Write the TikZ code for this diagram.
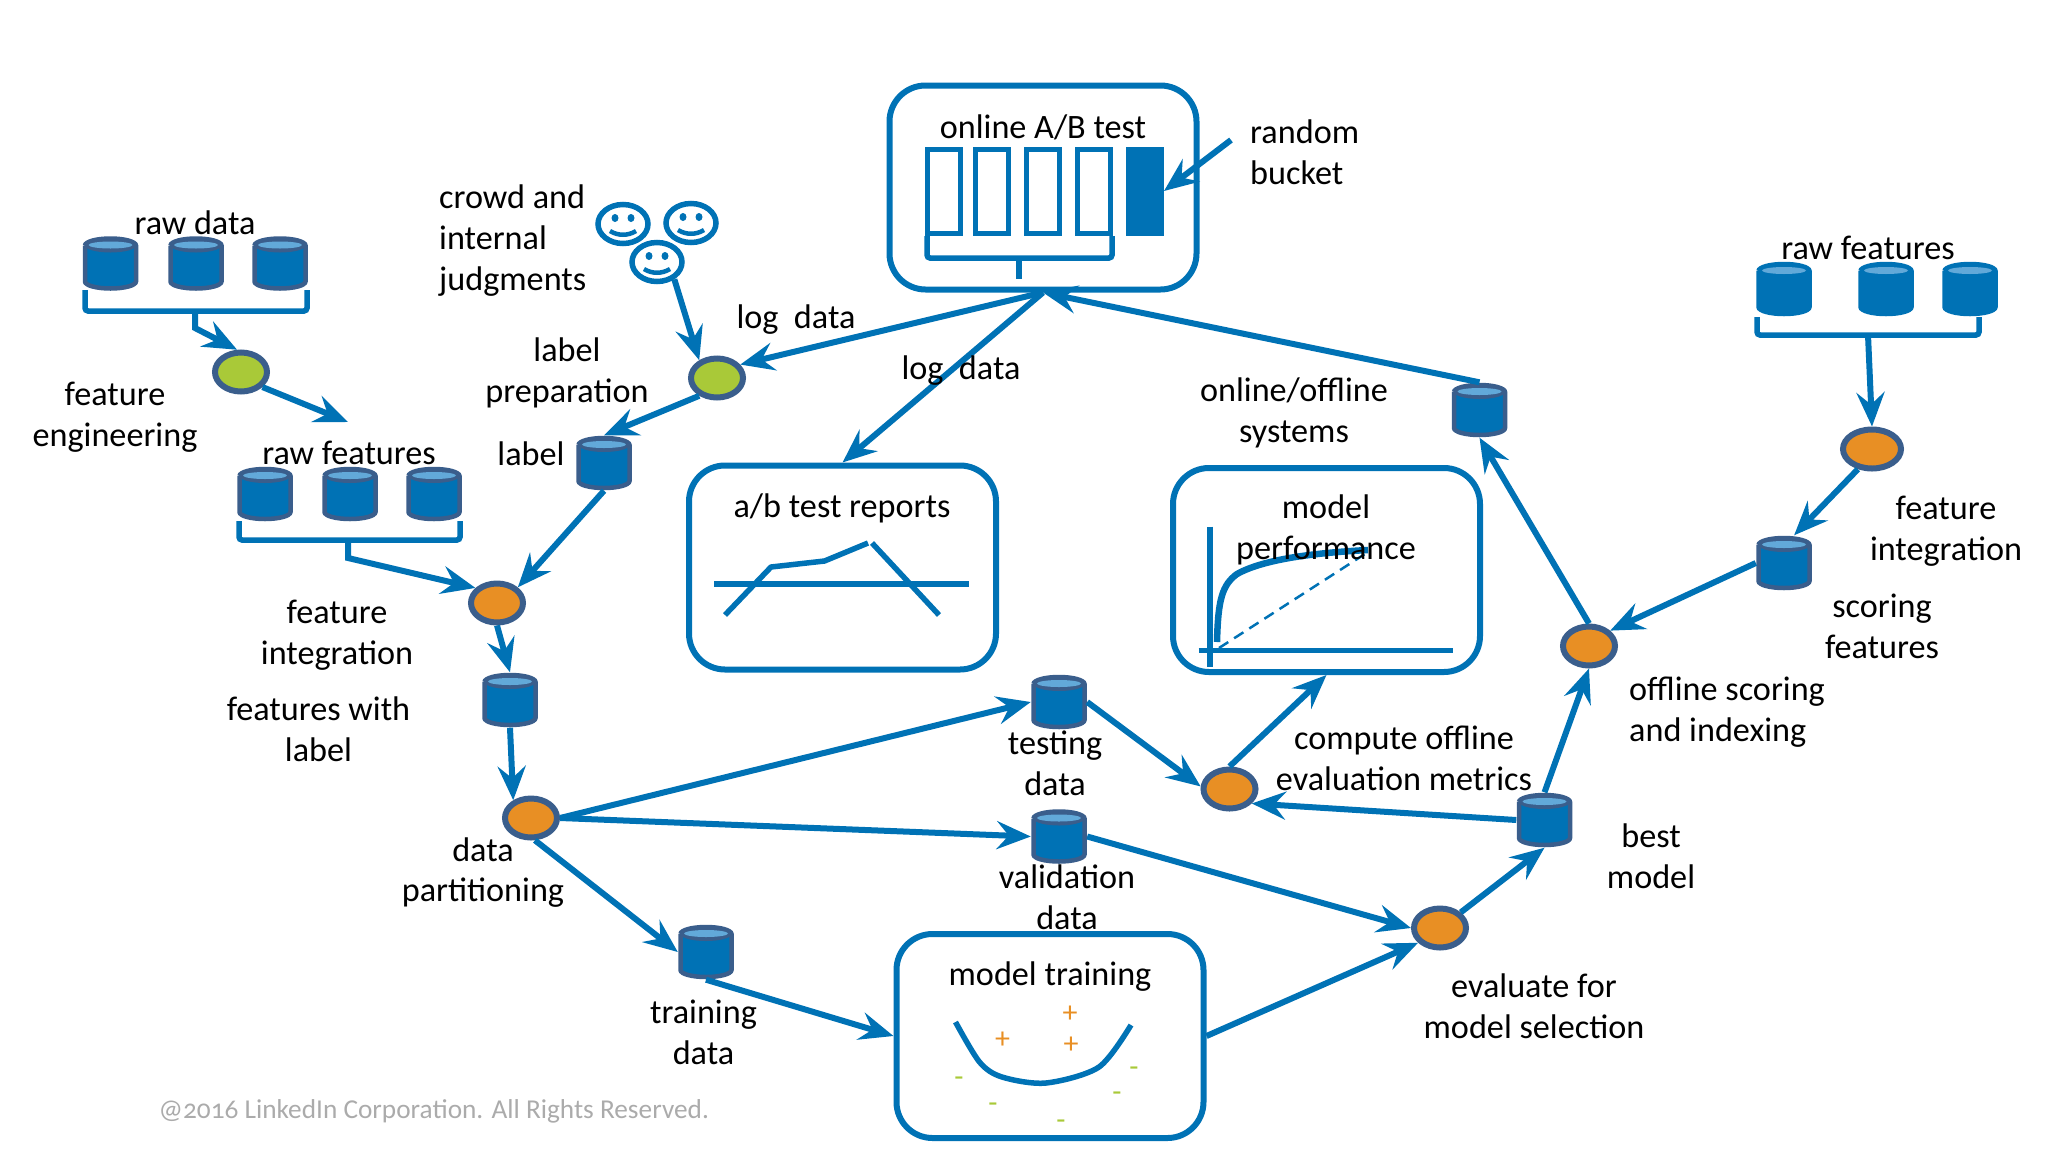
\documentclass[tikz,border=0pt]{standalone}
\usepackage{fontspec}
\setmainfont{Carlito}
\usetikzlibrary{arrows.meta,shapes.geometric}

\definecolor{lnblue}{HTML}{0072B5}
\definecolor{lndark}{HTML}{3A5E8C}
\definecolor{lntop}{HTML}{62A9D9}
\definecolor{lnorange}{HTML}{E88F24}
\definecolor{lngreen}{HTML}{A9C938}
\definecolor{lngray}{HTML}{ABABAB}

\tikzset{
  lbl/.style={inner sep=0pt, align=center, font=\fontsize{34.2}{40.7}\selectfont},
  lblleft/.style={lbl, align=left, anchor=west},
  flow/.style={draw=lnblue, line width=6pt, -{Stealth[length=34pt,width=28pt,inset=12pt]}},
  bracket/.style={draw=lnblue, line width=5.5pt, rounded corners=3pt},
  db/.style={rectangle, inner sep=0pt, minimum width=56pt, minimum height=55pt,
    path picture={
      \begin{scope}[shift={(path picture bounding box.center)}]
        \draw[draw=#1, fill=lnblue, line width=4.5pt] (-25.5,-18) -- (-25.5,18)
          arc[start angle=180, end angle=360, x radius=25.5pt, y radius=7pt] -- (25.5,-18)
          arc[start angle=0, end angle=180, x radius=25.5pt, y radius=7pt];
        \fill[#1] (0,-18) ellipse [x radius=25.5pt, y radius=7pt];
        \fill[lntop] (0,-18.5) ellipse [x radius=22pt, y radius=3.5pt];
      \end{scope}
    }},
  db/.default=lndark,
  task/.style={ellipse, inner sep=0pt, minimum width=52pt, minimum height=39pt, line width=6pt, draw=lndark},
  taskgreen/.style={task, fill=lngreen},
  taskorange/.style={task, fill=lnorange},
  panel/.style={rectangle, rounded corners=36pt, draw=lnblue, line width=6pt,
    minimum width=307pt, minimum height=204pt},
  bar/.style={rectangle, draw=lnblue, line width=5pt, minimum width=33pt, minimum height=84pt},
  barfull/.style={bar, fill=lnblue},
  smiley/.style={ellipse, draw=lnblue, line width=5.5pt, minimum width=50pt, minimum height=39pt},
  inner/.style={draw=lnblue, line width=5.5pt},
}

\begin{document}
\begin{tikzpicture}[x=1pt,y=-1pt]
  \useasboundingbox (0,0) rectangle (2048,1152);

  % panels
  \node[panel] (abtest) at (1043,187.5) {};
  \node[panel] (reports) at (842.5,567.5) {};
  \node[panel] (perf) at (1326.5,570) {};
  \node[panel] (training) at (1050,1036) {};

  % online test buckets
  \foreach \n/\x in {barA/944,barB/992,barC/1043,barD/1094}
  \node[bar] (\n) at (\x,191) {};
  \node[barfull] (barE) at (1145,191) {};
  \draw[bracket] (927,236) -- (927,258) -- (1112,258) -- (1112,236);
  \draw[bracket] (1019,258) -- (1019,279);

  % report chart
  \draw[inner] (714,584) -- (969,584);
  \draw[inner, line join=round] (725,615) -- (771,567) -- (824.5,561) -- (868,543);
  \draw[inner] (872,543) -- (939,615);

  % performance chart
  \draw[inner] (1210,526.5) -- (1210,667);
  \draw[inner] (1198.5,650.5) -- (1453,650.5);
  \draw[draw=lnblue, line width=2.5pt, dash pattern=on 11pt off 7pt] (1219,648) -- (1368,552);
  \draw[draw=lnblue, line width=6.5pt] (1217,642) .. controls (1218,600) and (1222,585) .. (1237,574)
    .. controls (1262,560) and (1310,553) .. (1368,550);

  % training chart
  \draw[inner] plot[smooth] coordinates {
    (955.5,1022)
    (979.5,1062)
    (1002,1077)
    (1046,1083)
    (1099,1067)
    (1131,1025)
  };
  \foreach \n/\x/\y in {plusA/1070/1014,plusB/1002.5/1040,plusC/1071/1045}
  \node[inner sep=0pt, text=lnorange, font=\fontsize{30}{30}\selectfont] (\n) at (\x,\y) {+};
  \foreach \n/\x/\y in {minusA/959/1082,minusB/993/1108,minusC/1061/1125,minusD/1117/1097,minusE/1134/1072}
  \node[inner sep=0pt, text=lngreen, font=\fontsize{30}{30}\selectfont] (\n) at (\x,\y) {-};

  % data stores
  \foreach \n/\x in {rawA/110.5,rawB/196,rawC/280}
  \node[db] (\n) at (\x,263.5) {};
  \foreach \n/\x in {featA/265,featB/350,featC/434}
  \node[db] (\n) at (\x,494) {};
  \foreach \n/\x in {scoreA/1784,scoreB/1886,scoreC/1970}
  \node[db=lnblue] (\n) at (\x,289) {};
  \node[db] (label) at (604,463) {};
  \node[db] (withlabel) at (510,700) {};
  \node[db] (trainset) at (706,952) {};
  \node[db] (testset) at (1059,702) {};
  \node[db] (valset) at (1059,836.5) {};
  \node[db] (bestmodel) at (1544.5,820) {};
  \node[db] (systems) at (1479.5,410) {};
  \node[db] (scoring) at (1784,563) {};

  % tasks
  \node[taskgreen] (engineer) at (241,372) {};
  \node[taskgreen] (prepare) at (717,378) {};
  \node[taskorange] (integrate) at (497,603) {};
  \node[taskorange] (partition) at (531,818) {};
  \node[taskorange] (compute) at (1229.5,789) {};
  \node[taskorange] (evaluate) at (1440,928) {};
  \node[taskorange] (offline) at (1589,646) {};
  \node[taskorange, minimum width=58pt] (integrateB) at (1872,449) {};

  % judges
  \foreach \n/\x/\y in {judgeA/623/224,judgeB/691/223,judgeC/657/262} {
    \node[smiley] (\n) at (\x,\y) {};
    \fill[lnblue] (\x-8,\y-6) ellipse [x radius=3.5pt, y radius=4pt];
    \fill[lnblue] (\x+8,\y-6) ellipse [x radius=3.5pt, y radius=4pt];
    \draw[draw=lnblue, line width=4.5pt] (\x-13,\y+7) .. controls (\x-5,\y+12) and (\x+5,\y+12) .. (\x+13,\y+7);
  }

  % brackets
  \draw[bracket] (85,290) -- (85,311) -- (307,311) -- (307,290);
  \draw[bracket] (239,521) -- (239,540) -- (460,540) -- (460,521);
  \draw[bracket] (1757,317) -- (1757,335) -- (1979,335) -- (1979,317);
  \coordinate (rawhub) at (195,311);
  \coordinate (rawknee) at (195,328);
  \coordinate (feathub) at (348,540);
  \coordinate (featknee) at (348,558);
  \coordinate (scorehub) at (1868,335);
  \coordinate (rawfeatin) at (348,422);
  \coordinate (bucketin) at (1231,140);

  % connectors
  \draw[flow] (rawhub) -- (rawknee) -- (engineer.100);
  \draw[flow] (engineer.-35) -- (rawfeatin);
  \draw[flow] (feathub) -- (featknee) -- (integrate.145);
  \draw[flow] (judgeC.-45) -- (prepare.135);
  \draw[flow] (abtest.south) -- (prepare.30);
  \draw[flow] (prepare.225) -- (label.north);
  \draw[flow] (label.south) -- (integrate.37);
  \draw[flow] (integrate.south) -- (withlabel.north);
  \draw[flow] (withlabel.south) -- (partition.135);
  \draw[flow] (partition.east) -- (testset.west);
  \draw[flow] (partition.east) -- (valset.west);
  \draw[flow] (partition.-80) -- (trainset.west);
  \draw[flow] (trainset.south) -- (training.west);
  \draw[flow] (training.east) -- (evaluate.214);
  \draw[flow] (valset.east) -- (evaluate.west);
  \draw[flow] (evaluate.37) -- (bestmodel.south);
  \draw[flow] (bestmodel.west) -- (compute.-33);
  \draw[flow] (testset.east) -- (compute.175);
  \draw[flow] (compute.north) -- (perf.south);
  \draw[flow] (bestmodel.north) -- (offline.south);
  \draw[flow] (offline.north) -- (systems.south);
  \draw[flow] (systems.north) -- (abtest.south);
  \draw[flow] (scorehub) -- (integrateB.north);
  \draw[flow] (integrateB.-125) -- (scoring.70);
  \draw[flow] (scoring.west) -- (offline.36);
  \draw[flow] (abtest.south) -- (reports.north);
  \draw[flow] (bucketin) -- (barE.east);

  % labels
  \node[lbl] (tRaw) at (195,223) {raw data};
  \node[lbl] (tEngineer) at (115,417) {feature\\engineering};
  \node[lbl] (tFeat) at (349,453) {raw features};
  \node[lblleft] (tCrowd) at (439,240.5) {crowd and\\internal\\judgments};
  \node[lbl] (tPrepare) at (567,373) {label\\preparation};
  \node[lbl] (tLabel) at (531,454) {label};
  \node[lbl] (tLogA) at (796,319.5) {log\ \ data};
  \node[lbl] (tLogB) at (961,370.5) {log\ \ data};
  \node[lbl] (tOnline) at (1043,127) {online A/B test};
  \node[lblleft] (tBucket) at (1250,152) {random\\bucket};
  \node[lbl] (tReports) at (842,508) {a/b test reports};
  \node[lbl] (tSystems) at (1294,413) {online/offline\\systems};
  \node[lbl] (tPerf) at (1326,530) {model\\performance};
  \node[lbl] (tScoreRaw) at (1868,248) {raw features};
  \node[lbl] (tIntegrateB) at (1946,531) {feature\\integration};
  \node[lbl] (tScoring) at (1882,626) {scoring\\features};
  \node[lblleft] (tOffline) at (1629,712) {offline scoring\\and indexing};
  \node[lbl] (tIntegrate) at (337,635) {feature\\integration};
  \node[lbl] (tWith) at (318.5,729.5) {features with\\label};
  \node[lbl] (tPartition) at (483,872.5) {data\\partitioning};
  \node[lbl] (tTest) at (1055,763.5) {testing\\data};
  \node[lbl] (tCompute) at (1404,758.5) {compute offline\\evaluation metrics};
  \node[lbl] (tVal) at (1067,897.5) {validation\\data};
  \node[lbl] (tBest) at (1651,856) {best\\model};
  \node[lbl] (tTrainset) at (703.5,1032.5) {training\\data};
  \node[lbl] (tTraining) at (1050,977) {model training};
  \node[lbl] (tEvaluate) at (1534,1006) {evaluate for\\model selection};
  \node[lblleft, text=lngray, font=\fontsize{27.3}{30}\selectfont\addfontfeatures{Numbers=OldStyle}] (tCopy) at (158.5,1111.5) {@2016 LinkedIn Corporation. All Rights Reserved.};

\end{tikzpicture}
\end{document}
